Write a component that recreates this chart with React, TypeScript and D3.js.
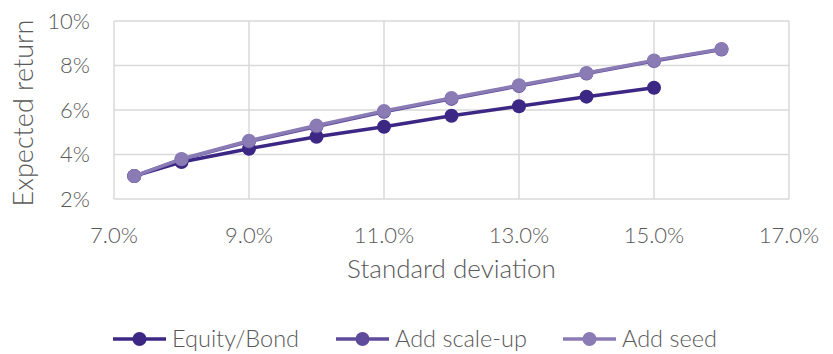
import React from 'react';
import * as d3 from 'd3';

// standard deviation (%) -> expected return (%)
const stdDev = [7.3, 8, 9, 10, 11, 12, 13, 14, 15, 16];
const equityBond = [3.03, 3.66, 4.26, 4.8, 5.25, 5.74, 6.17, 6.6, 7.0];
const addScaleUp = [3.03, 3.78, 4.58, 5.26, 5.92, 6.5, 7.08, 7.64, 8.2, 8.72];
const addSeed = [3.03, 3.8, 4.62, 5.3, 5.96, 6.54, 7.11, 7.66, 8.23, 8.74];

const xTicks = [7, 9, 11, 13, 15, 17];
const yTicks = [2, 4, 6, 8, 10];

const seriesNames = ['Equity/Bond', 'Add scale-up', 'Add seed'];
const seriesColors = ['#3c2784', '#5f4b9b', '#8a7bb5'];

const W = 833;
const H = 354;
const margin = { top: 21, right: 44, bottom: 155, left: 114 };
const FONT = 'Lato, "Open Sans", sans-serif';
const TEXT = '#595959';

export default function App() {
  const innerW = W - margin.left - margin.right;
  const innerH = H - margin.top - margin.bottom;

  const x = d3.scaleLinear().domain([7, 17]).range([0, innerW]);
  const y = d3.scaleLinear().domain([2, 10]).range([innerH, 0]);

  const series = [equityBond, addScaleUp, addSeed].map((vals, i) => ({
    name: seriesNames[i],
    color: seriesColors[i],
    points: vals.map((v, j) => [stdDev[j], v] as [number, number]),
  }));

  const line = d3
    .line<[number, number]>()
    .x((d) => x(d[0]))
    .y((d) => y(d[1]));

  const legendX = [113, 336, 563];

  return (
    <svg width={W} height={H} style={{ position: 'absolute', left: 0, top: 0, background: '#fff' }}>
      <g transform={`translate(${margin.left},${margin.top})`}>
        {/* grid */}
        {xTicks.map((t) => (
          <line key={'gx' + t} x1={x(t)} x2={x(t)} y1={0} y2={innerH} stroke="#d9d9d9" strokeWidth={1.5} />
        ))}
        {yTicks.map((t) => (
          <line key={'gy' + t} x1={0} x2={innerW} y1={y(t)} y2={y(t)} stroke="#d9d9d9" strokeWidth={1.5} />
        ))}

        {/* series */}
        {series.map((s) => (
          <g key={s.name}>
            <path d={line(s.points) || ''} fill="none" stroke={s.color} strokeWidth={3.5} />
            {s.points.map((p, j) => (
              <circle key={j} cx={x(p[0])} cy={y(p[1])} r={7} fill={s.color} />
            ))}
          </g>
        ))}

        {/* tick labels */}
        {xTicks.map((t) => (
          <text
            key={'tx' + t}
            x={x(t)}
            y={innerH + 44}
            textAnchor="middle"
            fontFamily={FONT}
            fontWeight={300}
            fontSize={22}
            fill={TEXT}
          >
            {t.toFixed(1) + '%'}
          </text>
        ))}
        {yTicks.map((t) => (
          <text
            key={'ty' + t}
            x={-24}
            y={y(t)}
            dy="0.36em"
            textAnchor="end"
            fontFamily={FONT}
            fontWeight={300}
            fontSize={22}
            fill={TEXT}
          >
            {t + '%'}
          </text>
        ))}

        {/* axis titles */}
        <text
          x={innerW / 2}
          y={innerH + 79}
          textAnchor="middle"
          fontFamily={FONT}
          fontWeight={300}
          fontSize={26}
          fill={TEXT}
        >
          Standard deviation
        </text>
        <text
          transform={`translate(${-81},${innerH / 2 + 3}) rotate(-90)`}
          textAnchor="middle"
          fontFamily={FONT}
          fontWeight={300}
          fontSize={27}
          fill={TEXT}
        >
          Expected return
        </text>
      </g>

      {/* legend */}
      {series.map((s, i) => (
        <g key={'lg' + s.name} transform={`translate(${legendX[i]},339)`}>
          <line x1={0} x2={53} y1={0} y2={0} stroke={s.color} strokeWidth={3.5} />
          <circle cx={26.5} cy={0} r={7} fill={s.color} />
          <text x={59} y={0} dy="0.36em" fontFamily={FONT} fontWeight={300} fontSize={23.5} fill={TEXT}>
            {s.name}
          </text>
        </g>
      ))}
    </svg>
  );
}
